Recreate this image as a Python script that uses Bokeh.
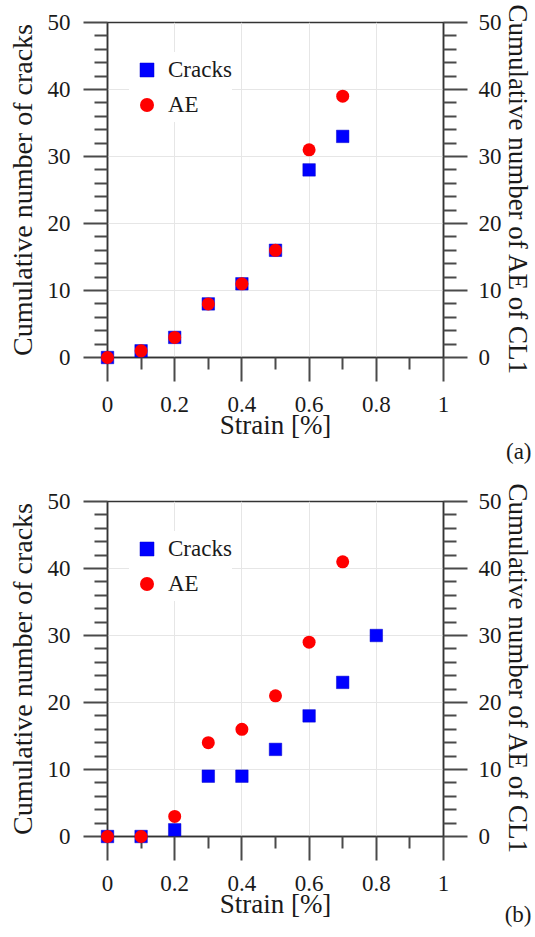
from bokeh.plotting import figure
from bokeh.models import FixedTicker, LinearAxis, Legend, LegendItem, Range1d
from bokeh.core.properties import value
from bokeh.layouts import column
from bokeh.embed import file_html
from bokeh.resources import INLINE

# ---- data ----
strain_a = [0.0, 0.1, 0.2, 0.3, 0.4, 0.5, 0.6, 0.7]
cracks_a = [0, 1, 3, 8, 11, 16, 28, 33]
ae_a = [0, 1, 3, 8, 11, 16, 31, 39]

strain_b_cracks = [0.0, 0.1, 0.2, 0.3, 0.4, 0.5, 0.6, 0.7, 0.8]
cracks_b = [0, 0, 1, 9, 9, 13, 18, 23, 30]
strain_b_ae = [0.0, 0.1, 0.2, 0.3, 0.4, 0.5, 0.6, 0.7]
ae_b = [0, 0, 3, 14, 16, 21, 29, 41]

x_ticks = [0, 0.2, 0.4, 0.6, 0.8, 1.0]
x_tick_labels = ["0", "0.2", "0.4", "0.6", "0.8", "1"]
x_minor_ticks = [0.1, 0.3, 0.5, 0.7, 0.9]
y_ticks = [0, 10, 20, 30, 40, 50]
y_tick_labels = ["0", "10", "20", "30", "40", "50"]
y_minor_ticks = [2, 4, 6, 8, 12, 14, 16, 18, 22, 24, 26, 28,
                 32, 34, 36, 38, 42, 44, 46, 48]

FONT = "Liberation Serif"
TXT = "#1a1a1a"
TICK = "#4a4a4a"


def style_axis(ax, minor_len, label_size):
    ax.major_tick_in = 0
    ax.major_tick_out = 24
    ax.minor_tick_in = 0
    ax.minor_tick_out = minor_len
    ax.major_tick_line_color = TICK
    ax.major_tick_line_width = 2
    ax.minor_tick_line_color = TICK
    ax.minor_tick_line_width = 2
    ax.axis_line_color = "#333333"
    ax.axis_line_width = 1.5
    ax.major_label_text_font = FONT
    ax.major_label_text_font_size = "23px"
    ax.major_label_text_color = TXT
    ax.axis_label_text_font = FONT
    ax.axis_label_text_font_size = label_size
    ax.axis_label_text_font_style = "normal"
    ax.axis_label_text_color = TXT


def make_panel(xc, yc, xa, ya, tag, tag_y, height, top, bottom):
    p = figure(width=535, height=height,
               x_range=Range1d(0, 1), y_range=Range1d(0, 50),
               output_backend="svg", toolbar_location=None,
               min_border_left=107, min_border_right=92,
               min_border_top=top, min_border_bottom=bottom)
    p.outline_line_color = "#333333"
    p.outline_line_width = 1.5
    p.background_fill_color = "white"

    xax = p.xaxis[0]
    xax.ticker = FixedTicker(ticks=x_ticks, minor_ticks=x_minor_ticks)
    xax.major_label_overrides = dict(zip(x_ticks, x_tick_labels))
    xax.axis_label = "Strain [%]"
    style_axis(xax, 12, "27px")
    xax.major_label_standoff = 15
    xax.axis_label_standoff = -5

    yax = p.yaxis[0]
    yax.ticker = FixedTicker(ticks=y_ticks, minor_ticks=y_minor_ticks)
    yax.major_label_overrides = dict(zip(y_ticks, y_tick_labels))
    yax.axis_label = "Cumulative number of cracks"
    style_axis(yax, 13, "28px")
    yax.major_label_standoff = 13
    yax.axis_label_standoff = 7

    rax = LinearAxis(ticker=FixedTicker(ticks=y_ticks, minor_ticks=y_minor_ticks),
                     axis_label="Cumulative number of AE of CL1")
    rax.major_label_overrides = dict(zip(y_ticks, y_tick_labels))
    style_axis(rax, 13, "27px")
    rax.major_label_standoff = 11
    rax.axis_label_standoff = -2
    p.add_layout(rax, "right")

    for g in (p.xgrid[0], p.ygrid[0]):
        g.grid_line_color = "#e6e6e6"
        g.grid_line_width = 1
    p.xgrid[0].ticker = FixedTicker(ticks=x_ticks)
    p.ygrid[0].ticker = FixedTicker(ticks=y_ticks)

    r1 = p.scatter(xc, yc, marker="square", size=12.5, fill_color="#0000ff",
                   line_color="#0000cc", line_width=0.5, level="overlay")
    r2 = p.scatter(xa, ya, marker="circle", size=13, fill_color="#ff0000",
                   line_color=None, level="overlay")

    legend = Legend(items=[LegendItem(label="Cracks", renderers=[r1]),
                           LegendItem(label="AE", renderers=[r2])],
                    location=(22, 235), glyph_width=35, glyph_height=35,
                    label_standoff=4, spacing=0, padding=0, margin=0,
                    border_line_color=None, background_fill_color="white",
                    background_fill_alpha=1.0,
                    label_text_font=FONT, label_text_font_size="23px",
                    label_text_color=TXT)
    p.add_layout(legend)

    # panel tag, e.g. "(a)", placed below-right of the frame
    p.text(x=[1.262], y=[tag_y], text=[tag], text_align="right",
           text_baseline="alphabetic", text_font=value(FONT),
           text_font_size="23px", text_color=TXT, level="overlay")
    return p


pa = make_panel(strain_a, cracks_a, strain_a, ae_a, "(a)", -14.07, 468, 22, 111)
pb = make_panel(strain_b_cracks, cracks_b, strain_b_ae, ae_b, "(b)", -11.64, 469, 33, 101)

layout = column(pa, pb)
open("out.html", "w").write(file_html(layout, INLINE))
